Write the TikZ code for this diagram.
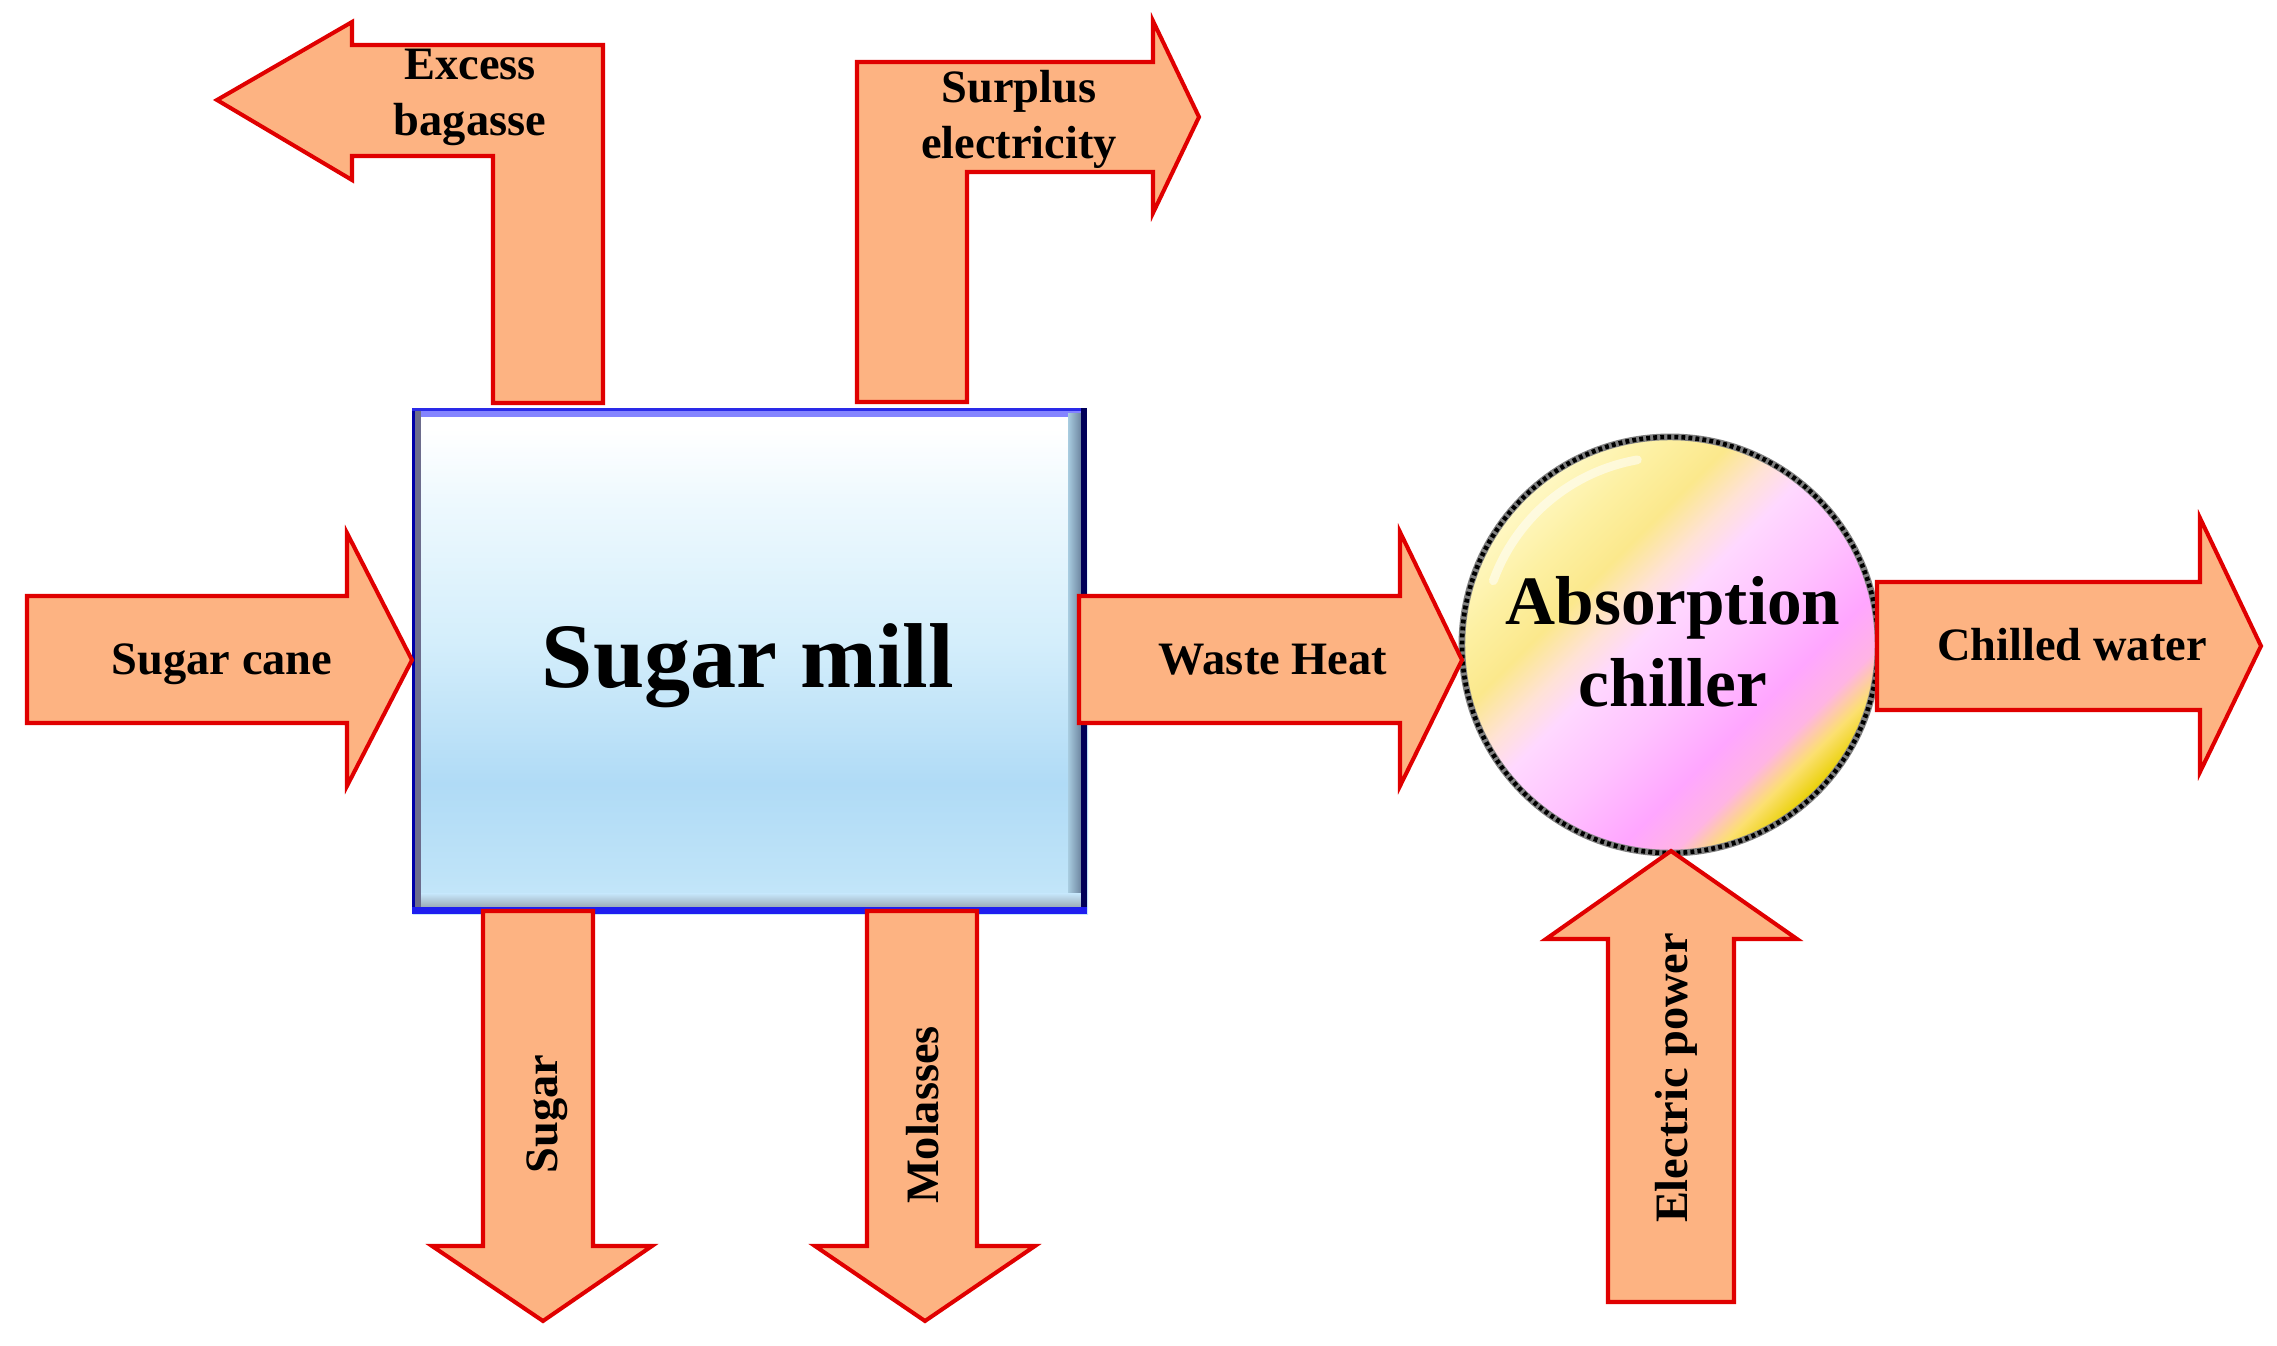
\documentclass[tikz,border=0pt]{standalone}
\usepackage{fontspec}
\setmainfont{Liberation Serif}
\usetikzlibrary{calc}
\definecolor{arrowfill}{HTML}{FDB382}
\definecolor{arrowred}{HTML}{E00000}
\definecolor{mb0}{HTML}{C8E8FA}
\definecolor{mb1}{HTML}{BEE3F8}
\definecolor{mb2}{HTML}{B0DBF6}
\definecolor{mb3}{HTML}{D4EEFB}
\definecolor{mb4}{HTML}{EEF9FE}
\definecolor{cy0}{HTML}{FFF8C4}
\definecolor{cy1}{HTML}{FDF0A2}
\definecolor{cy2}{HTML}{FBE88C}
\definecolor{cy3}{HTML}{FFE2D6}
\definecolor{cp1}{HTML}{FFD8FF}
\definecolor{cp2}{HTML}{FFC2FF}
\definecolor{cp3}{HTML}{FFA6FF}
\definecolor{cp4}{HTML}{FFB4E4}
\definecolor{cy4}{HTML}{FCE070}
\definecolor{cy5}{HTML}{E8D000}
\definecolor{ringgray}{HTML}{808080}
\definecolor{bevtop}{HTML}{8484FF}
\definecolor{bevleft}{HTML}{6C6C8C}
\definecolor{bordleft}{HTML}{0000A8}
\definecolor{bordtop}{HTML}{2A2AE8}
\definecolor{bordright}{HTML}{000058}
\definecolor{bordbot}{HTML}{1E1EF0}
\definecolor{bevr1}{HTML}{A8CCE0}
\definecolor{bevr2}{HTML}{6E86A0}
\definecolor{bevb1}{HTML}{C4E4F8}
\definecolor{bevb2}{HTML}{98A6B2}
\pgfdeclareverticalshading{millshade}{100bp}{color(0bp)=(mb0); color(25bp)=(mb0); color(29bp)=(mb1); color(38bp)=(mb2); color(52bp)=(mb3); color(66bp)=(mb4); color(73bp)=(white); color(100bp)=(white)}
\pgfdeclarehorizontalshading{chillshade}{100bp}{color(0bp)=(cy0); color(25bp)=(cy0); color(32bp)=(cy1); color(38bp)=(cy2); color(43bp)=(cy3); color(47bp)=(cp1); color(55bp)=(cp2); color(63bp)=(cp3); color(68bp)=(cp4); color(71.5bp)=(cy4); color(75bp)=(cy5); color(100bp)=(cy5)}
\begin{document}
\begin{tikzpicture}[x=0.01cm, y=-0.01cm,
  blockarrow/.style={fill=arrowfill, draw=arrowred, line width=1.15pt, line join=miter},
  lbl/.style={font=\fontsize{13.2}{15.9}\selectfont\bfseries, inner sep=0pt, anchor=base, text=black},
]
\useasboundingbox[fill=white] (0,0) rectangle (2277,1346);

% Sugar mill box
\node[rectangle, inner sep=0pt, minimum width=6.75cm, minimum height=5.06cm, shade, shading=millshade, anchor=north west] (mill) at (412,408) {};
\fill[bevtop] (412,408) rectangle (1087,417);
\fill[bevleft] (412,410) rectangle (421,914);
\shade[left color=bevr1, right color=bevr2] (1068,414) rectangle (1081,910);
\shade[top color=bevb1, bottom color=bevb2] (421,894) rectangle (1081,908);
\fill[bordleft] (412,408) rectangle (415,914);
\fill[bordtop] (412,408) rectangle (1087,411);
\fill[bordright] (1081,408) rectangle (1087,914);
\fill[bordbot] (412,907) rectangle (1087,914);

% Absorption chiller
\node[circle, inner sep=0pt, minimum size=4.16cm, shade, shading=chillshade, shading angle=-45, draw=ringgray, line width=1.9pt] (chiller) at (1670,645) {};
\draw[black, line width=1.3pt, dash pattern=on 1.1pt off 0.9pt] (chiller.center) circle[radius=208];
\draw[white, opacity=0.55, line width=2.5pt, line cap=round] ($(chiller.center)+(-100:188)$) arc[start angle=-100, end angle=-160, radius=188];

% block arrows
\draw[blockarrow] (27,596) -- (347,596) -- (347,533) -- (412,660) -- (347,786) -- (347,723) -- (27,723) -- cycle;
\draw[blockarrow] (1079,596) -- (1400,596) -- (1400,532) -- (1462,660) -- (1400,786) -- (1400,723) -- (1079,723) -- cycle;
\draw[blockarrow] (1877,582) -- (2200,582) -- (2200,518) -- (2261,646) -- (2200,772) -- (2200,710) -- (1877,710) -- cycle;
\draw[blockarrow] (483,911) -- (593,911) -- (593,1246) -- (652,1246) -- (543,1321) -- (432,1246) -- (483,1246) -- cycle;
\draw[blockarrow] (867,911) -- (977,911) -- (977,1246) -- (1035,1246) -- (925,1321) -- (815,1246) -- (867,1246) -- cycle;
\draw[blockarrow] (1608,1302) -- (1608,939) -- (1546,939) -- (1671,851) -- (1797,939) -- (1734,939) -- (1734,1302) -- cycle;
\draw[blockarrow] (217,100) -- (352,22) -- (352,45) -- (603,45) -- (603,403) -- (493,403) -- (493,156) -- (352,156) -- (352,180) -- cycle;
\draw[blockarrow] (857,402) -- (857,62) -- (1153,62) -- (1153,21) -- (1199,117) -- (1153,213) -- (1153,172) -- (967,172) -- (967,402) -- cycle;

% labels
\node[lbl] (lcane) at (222,675) {Sugar cane};
\node[lbl] (lwaste) at (1273,675) {Waste Heat};
\node[lbl] (lchill) at (2072,661) {Chilled water};
\node[lbl] (lexcess) at (470,80) {\begin{tabular}[t]{@{}c@{}}Excess\\bagasse\end{tabular}};
\node[lbl] (lsurplus) at (1019,103) {\begin{tabular}[t]{@{}c@{}}Surplus\\electricity\end{tabular}};
\node[lbl, font=\fontsize{26.2}{30}\selectfont\bfseries] (lmill) at (748,688) {Sugar mill};
\node[lbl, font=\fontsize{19.7}{23.3}\selectfont\bfseries] (lchiller) at (1673,625) {\begin{tabular}[t]{@{}c@{}}Absorption\\chiller\end{tabular}};
\node[lbl, rotate=90] (lsugar) at (557,1114) {Sugar};
\node[lbl, rotate=90] (lmolasses) at (938,1115) {Molasses};
\node[lbl, rotate=90] (lelec) at (1687,1078) {Electric power};
\end{tikzpicture}
\end{document}
